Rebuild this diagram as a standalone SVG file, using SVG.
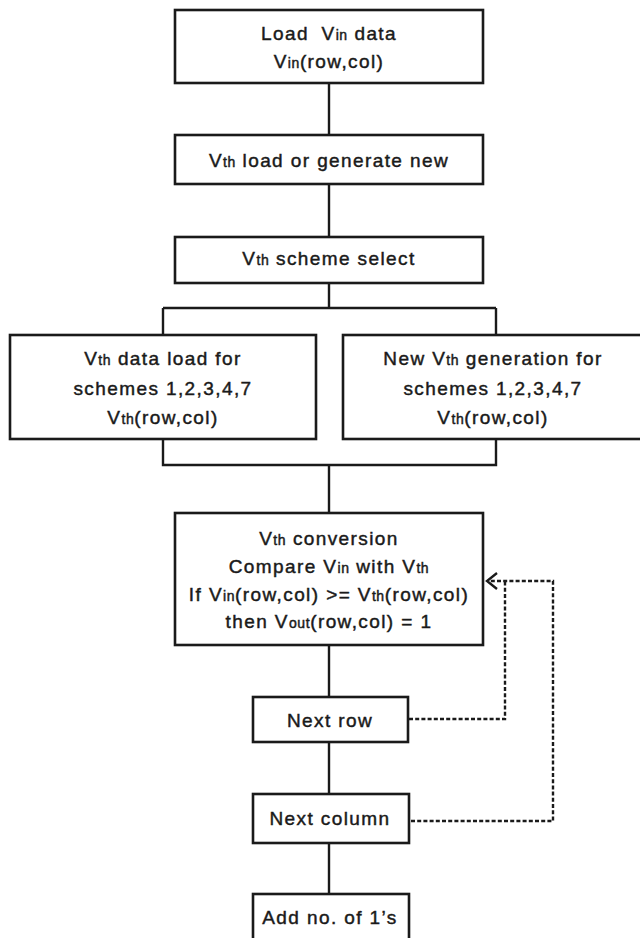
<svg xmlns="http://www.w3.org/2000/svg" width="640" height="938" viewBox="0 0 640 938">
<style>
.box{fill:#fff;stroke:#1a1a1a;stroke-width:2.6}
.ln{fill:none;stroke:#1a1a1a;stroke-width:2.4}
.dash{fill:none;stroke:#1a1a1a;stroke-width:2.4;stroke-dasharray:4 2.2}
text{font-family:"Liberation Sans",Arial,sans-serif;font-size:19px;fill:#1a1a1a;stroke:#1a1a1a;stroke-width:0.45px;text-anchor:middle;letter-spacing:1.4px}
.s{font-size:14px;letter-spacing:0.6px}
</style>
<rect width="640" height="938" fill="#fff"/>
<g id="connectors">
<path class="ln" d="M329,83 V135 M329,184 V237 M329,283 V308 M163,308 H496 M163,308 V335 M496,308 V335 M163,439 V465 H496 V439 M329,465 V513 M329,645 V697 M329,742 V794 M329,843 V894"/>
<path class="dash" d="M409,719 H505 V581"/>
<path class="dash" d="M411,821 H553 V581 H490"/>
<path class="ln" d="M497,573 L487,581 L497,589" stroke-width="2.2"/>
</g>
<g id="n1"><rect class="box" x="175" y="10" width="308" height="73"/>
<text x="329" y="40">Load <tspan dx="6">V</tspan><tspan class="s">in</tspan> data</text>
<text x="329" y="68">V<tspan class="s">in</tspan>(row,col)</text></g>
<g id="n2"><rect class="box" x="175" y="135" width="308" height="49"/>
<text x="329" y="167">V<tspan class="s">th</tspan> load or generate new</text></g>
<g id="n3"><rect class="box" x="175" y="237" width="308" height="46"/>
<text x="329" y="265">V<tspan class="s">th</tspan> scheme select</text></g>
<g id="n4"><rect class="box" x="10" y="335" width="306" height="104"/>
<text x="163" y="365">V<tspan class="s">th</tspan> data load for</text>
<text x="163" y="395">schemes 1,2,3,4,7</text>
<text x="163" y="424">V<tspan class="s">th</tspan>(row,col)</text></g>
<g id="n5"><rect class="box" x="343" y="335" width="305" height="104"/>
<text x="493" y="365">New V<tspan class="s">th</tspan> generation for</text>
<text x="493" y="395">schemes 1,2,3,4,7</text>
<text x="493" y="424">V<tspan class="s">th</tspan>(row,col)</text></g>
<g id="n6"><rect class="box" x="175" y="513" width="308" height="132"/>
<text x="329" y="545">V<tspan class="s">th</tspan> conversion</text>
<text x="329" y="573">Compare V<tspan class="s">in</tspan> with V<tspan class="s">th</tspan></text>
<text x="329" y="601">If V<tspan class="s">in</tspan>(row,col) &gt;= V<tspan class="s">th</tspan>(row,col)</text>
<text x="329" y="628">then V<tspan class="s">out</tspan>(row,col) = 1</text></g>
<g id="n7"><rect class="box" x="253" y="697" width="155" height="45"/>
<text x="330" y="727">Next row</text></g>
<g id="n8"><rect class="box" x="253" y="794" width="156" height="49"/>
<text x="330" y="825">Next column</text></g>
<g id="n9"><rect class="box" x="253" y="894" width="156" height="60"/>
<text x="330" y="924">Add no. of 1’s</text></g>
</svg>
